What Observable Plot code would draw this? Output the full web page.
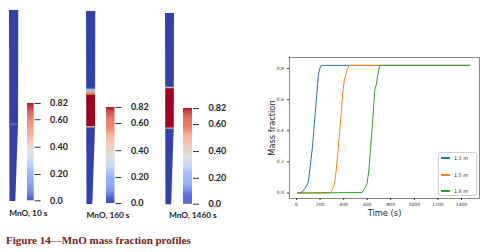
<!DOCTYPE html>
<html><head><meta charset="utf-8">
<script src="https://cdn.jsdelivr.net/npm/d3@7"></script>
<script src="https://cdn.jsdelivr.net/npm/@observablehq/plot@0.6"></script>
<style>
body{margin:0;background:#fff;}
#fig{position:relative;width:488px;height:252px;overflow:hidden;background:#fff;}
.snaplabel{position:absolute;font-family:Lato,"Liberation Sans",sans-serif;font-weight:700;font-size:8.3px;color:#222;white-space:nowrap;transform:translate(-50%,-50%);}
#caption{position:absolute;left:6px;top:240px;transform:translateY(-50%);font-family:"Liberation Serif",serif;font-weight:bold;font-size:11px;color:#722024;white-space:nowrap;}
#legend{position:absolute;box-sizing:border-box;border:0.6px solid #cfcfcf;border-radius:2px;background:rgba(255,255,255,0.8);font-family:"DejaVu Sans",sans-serif;font-size:4.8px;color:#222;}
#legend .row{position:absolute;left:0;right:0;height:0;}
#legend .sw{position:absolute;left:2px;width:9px;height:1.1px;top:-0.55px;}
#legend .lb{position:absolute;left:15px;top:0;transform:translateY(-50%);white-space:nowrap;}
</style></head><body><div id="fig"></div>
<script>
// ---------- data: column snapshots (position along column, 0 = bottom, 1 = top; v = MnO mass fraction)
const snapshotLabels = ["MnO, 10 s", "MnO, 160 s", "MnO, 1460 s"];
const profile10s = [
  {from: 0.000, to: 0.397, v: 0},
  {from: 0.397, to: 0.407, v: 0.07},
  {from: 0.407, to: 1.000, v: 0}
];
const profile160s = [
  {from: 0.000, to: 0.396, v: 0},
  {from: 0.396, to: 0.404, v: 0.50},
  {from: 0.404, to: 0.565, v: 0.82},
  {from: 0.565, to: 0.575, v: 0.65},
  {from: 0.575, to: 0.585, v: 0.52},
  {from: 0.585, to: 0.596, v: 0.32},
  {from: 0.596, to: 0.602, v: 0.12},
  {from: 0.602, to: 1.000, v: 0}
];
const profile1460s = [
  {from: 0.000, to: 0.395, v: 0},
  {from: 0.395, to: 0.402, v: 0.45},
  {from: 0.402, to: 0.606, v: 0.82},
  {from: 0.606, to: 0.614, v: 0.45},
  {from: 0.614, to: 1.000, v: 0}
];
const colorbarTicks = [0, 0.2, 0.4, 0.6, 0.82];
const colorbarTickLabels = ["0.0", "0.20", "0.40", "0.60", "0.82"];

// ---------- data: line chart
const seriesNames = ["1.3 m", "1.5 m", "1.8 m"];
const time13 = [10, 45, 73, 96, 107, 121, 136, 150, 164, 178, 186, 198, 209, 1470];
const frac13 = [0, 0.005, 0.03, 0.06, 0.11, 0.20, 0.30, 0.43, 0.56, 0.69, 0.76, 0.80, 0.82, 0.82];
const time15 = [10, 285, 300, 322, 336, 350, 365, 379, 393, 405, 421, 432, 446, 1470];
const frac15 = [0, 0, 0.015, 0.06, 0.14, 0.25, 0.38, 0.51, 0.65, 0.72, 0.77, 0.80, 0.82, 0.82];
const time18 = [10, 557, 579, 599, 613, 627, 641, 655, 664, 678, 692, 706, 1470];
const frac18 = [0, 0.003, 0.03, 0.06, 0.14, 0.27, 0.41, 0.56, 0.66, 0.70, 0.77, 0.82, 0.82];
const timeTicks = [0, 200, 400, 600, 800, 1000, 1200, 1400];
const fracTicks = [0, 0.2, 0.4, 0.6, 0.8];
const seriesColors = ["#1f77b4", "#ff7f0e", "#2ca02c"];

// ---------- layout (pixels)
const panels = [
  {col: {left: 8.7, top: 10, width: 9.3, height: 191}, bar: {left: 26.7, top: 102.7, width: 6.6, height: 97.3}, label: {x: 28.3, y: 213}},
  {col: {left: 86, top: 11, width: 9.3, height: 193}, bar: {left: 106.3, top: 107.3, width: 8.4, height: 96}, label: {x: 108, y: 215}},
  {col: {left: 165, top: 12.7, width: 9, height: 191.3}, bar: {left: 182.7, top: 108.3, width: 9, height: 95.7}, label: {x: 192.8, y: 214.5}}
];
const profiles = [profile10s, profile160s, profile1460s];
// where each colour-bar label sits along the bar (0 = bottom, 1 = top), as in the figure
const tickPlacement = d3.scaleLinear().domain(colorbarTicks).range([0, 0.27, 0.55, 0.833, 1]);

const coolwarm = ["#3b4cc0", "#6282ea", "#8db0fe", "#b9d0f9", "#dddddd", "#f5c4ac", "#f49a7b", "#de604d", "#b40426"];
const cw = d3.scaleLinear().domain(coolwarm.map((_, i) => 0.82 * i / (coolwarm.length - 1))).range(coolwarm).interpolate(d3.interpolateLab).clamp(true);
const colorScale = {type: "identity"};

const fig = document.getElementById("fig");
function place(el, left, top) { el.style.position = "absolute"; el.style.left = left + "px"; el.style.top = top + "px"; fig.appendChild(el); }

// column shape (tapered lower section)
const rightEdge = d3.scaleLinear().domain([0, 0.395, 0.40, 1]).range([0.68, 0.95, 0.97, 1]);
const leftEdge = d3.scaleLinear().domain([0, 1]).range([0.05, 0]);

panels.forEach((P, k) => {
  const prof = profiles[k];
  const pts = prof.flatMap((s, i) => {
    const top = i < prof.length - 1 ? Math.min(1, s.to + 0.004) : s.to;
    return [s.from, top].map(p => ({seg: i, pos: p, v: s.v, x1: leftEdge(p), x2: rightEdge(p)}));
  });
  const col = Plot.plot({
    width: P.col.width, height: P.col.height, margin: 0,
    x: {domain: [0, 1], axis: null}, y: {domain: [0, 1], axis: null},
    color: colorScale,
    style: {background: "transparent", overflow: "visible", filter: "brightness(0.87)"},
    marks: [Plot.areaX(pts, {x1: "x1", x2: "x2", y: "pos", z: "seg", fill: d => cw(d.v), curve: "linear"})]
  });
  place(col, P.col.left, P.col.top);

  const pad = 8;
  const ramp = d3.range(0, 1, 0.01);
  const bar = Plot.plot({
    width: P.bar.width + 40, height: P.bar.height + 2 * pad,
    marginLeft: 0, marginRight: 40, marginTop: pad, marginBottom: pad,
    x: {domain: [0, 1], axis: null},
    y: {domain: [0, 1], axis: null},
    color: colorScale,
    style: {background: "transparent", overflow: "visible", fontFamily: "Lato, 'Liberation Sans', sans-serif", fontWeight: "bold", fontSize: "9px", color: "#222"},
    marks: [
      Plot.rect(ramp, {x1: d => 0, x2: d => 1, y1: d => d, y2: d => Math.min(1, d + 0.012), fill: d => cw((d + 0.005) * 0.82)}),
      Plot.axisY({anchor: "right", ticks: colorbarTicks.map(tickPlacement), tickFormat: (d, i) => colorbarTickLabels[i], tickSize: 6, tickPadding: 10, stroke: "#333", strokeWidth: 1, label: null})
    ]
  });
  place(bar, P.bar.left, P.bar.top - pad);

  const lab = document.createElement("div");
  lab.className = "snaplabel";
  lab.textContent = snapshotLabels[k];
  lab.style.left = P.label.x + "px"; lab.style.top = P.label.y + "px";
  fig.appendChild(lab);
});

// ---------- line chart
const seriesTimes = [time13, time15, time18];
const seriesFracs = [frac13, frac15, frac18];
const lineData = seriesNames.flatMap((name, i) => seriesTimes[i].map((t, j) => ({series: name, t, v: seriesFracs[i][j]})));
const chart = Plot.plot({
  width: 248, height: 170, marginLeft: 49, marginRight: 9, marginTop: 7, marginBottom: 22,
  x: {domain: [-59.4, 1552.7], label: null},
  y: {domain: [-0.0353, 0.8708], label: null},
  color: {domain: seriesNames, range: seriesColors},
  style: {background: "transparent", overflow: "visible", fontFamily: "'DejaVu Sans', sans-serif", fontSize: "4.5px", color: "#333"},
  marks: [
    Plot.line(lineData, {x: "t", y: "v", z: "series", stroke: "series", strokeWidth: 1}),
    Plot.frame({stroke: "#555", strokeWidth: 0.7}),
    Plot.axisX({ticks: timeTicks, tickSize: 2, tickPadding: 2, tickFormat: d => String(d), label: null}),
    Plot.axisY({ticks: fracTicks, tickSize: 2, tickPadding: 3.5, tickFormat: d => d.toFixed(1), label: null}),
    Plot.text(["Mass fraction"], {text: d => d, frameAnchor: "left", dx: -17.3, rotate: -90, textAnchor: "middle", lineAnchor: "middle", fontSize: 8.3, fill: "#222"}),
    Plot.text(["Time (s)"], {text: d => d, frameAnchor: "bottom", dy: 15, textAnchor: "middle", lineAnchor: "middle", fontSize: 8.3, fill: "#222"})
  ]
});
place(chart, 240, 50);

// legend
const legend = document.createElement("div");
legend.id = "legend";
legend.style.left = "438px"; legend.style.top = "152px"; legend.style.width = "39px"; legend.style.height = "44px";
const rowY = [5, 22, 38];
seriesNames.forEach((name, i) => {
  const row = document.createElement("div");
  row.className = "row"; row.style.top = rowY[i] + "px";
  const sw = document.createElement("div"); sw.className = "sw"; sw.style.background = seriesColors[i];
  const lb = document.createElement("div"); lb.className = "lb"; lb.textContent = name;
  row.appendChild(sw); row.appendChild(lb); legend.appendChild(row);
});
fig.appendChild(legend);

// caption
const cap = document.createElement("div");
cap.id = "caption";
cap.textContent = "Figure 14—MnO mass fraction profiles";
fig.appendChild(cap);
</script></body></html>
